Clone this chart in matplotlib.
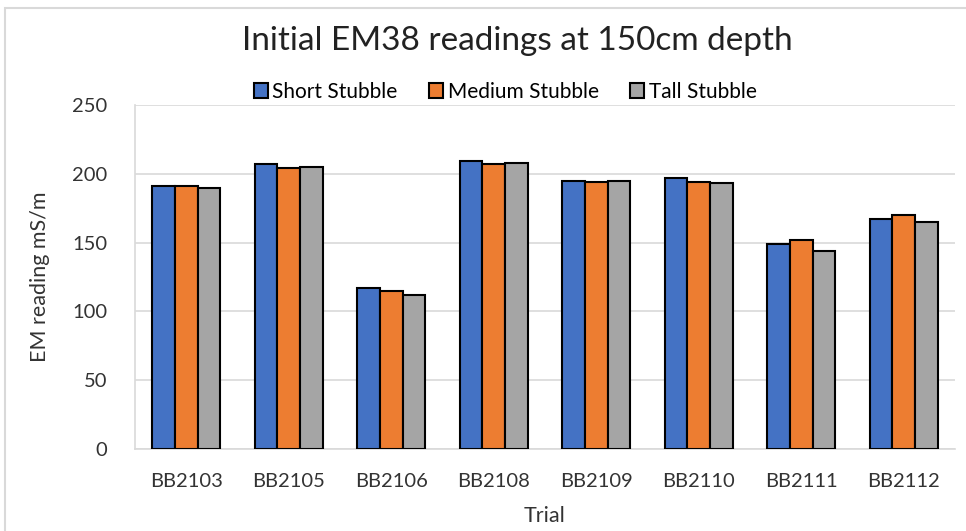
import matplotlib.pyplot as plt
import numpy as np
from matplotlib.patches import Rectangle

# EM38 readings (mS/m) at 150cm depth per trial
trials = ["BB2103", "BB2105", "BB2106", "BB2108", "BB2109", "BB2110", "BB2111", "BB2112"]
short_stubble = [191, 207, 117, 209, 195, 197, 149, 167]
medium_stubble = [191, 204, 115, 207, 194, 194, 152, 170]
tall_stubble = [190, 205, 112, 208, 195, 193, 144, 165]

series = [("Short Stubble", short_stubble, "#4472c4"),
          ("Medium Stubble", medium_stubble, "#ed7d31"),
          ("Tall Stubble", tall_stubble, "#a5a5a5")]

plt.rcParams['font.family'] = ['Lato', 'DejaVu Sans']

fig = plt.figure(figsize=(9.66, 5.31), dpi=100)
ax = fig.add_axes([135/966, 1 - 449/531, 820/966, 344/531])

x = np.arange(len(trials))
w = 0.22
for i, (name, vals, col) in enumerate(series):
    ax.bar(x + (i - 1)*w, vals, w, color=col, edgecolor="black", linewidth=1.5,
           label=name, zorder=3)

ax.set_xlim(-0.5, len(trials) - 0.5)
ax.set_ylim(0, 250)
ax.set_yticks(range(0, 251, 50))
ax.set_xticks(x)
ax.set_xticklabels(trials)
ax.tick_params(axis="both", length=0, labelsize=14.5, colors="#333333")
ax.tick_params(axis="x", pad=17)
ax.tick_params(axis="y", pad=20)
ax.grid(axis="y", color="#d9d9d9", linewidth=1.2, zorder=0)
for s in ["top", "right"]:
    ax.spines[s].set_visible(False)
for s in ["left", "bottom"]:
    ax.spines[s].set_color("#d9d9d9")
    ax.spines[s].set_linewidth(1.2)

ax.set_xlabel("Trial", fontsize=15.5, color="#333333", labelpad=12)
ax.set_ylabel("EM reading mS/m", fontsize=15.5, color="#333333", labelpad=16)

fig.text(517/966, 1 - 41/531, "Initial EM38 readings at 150cm depth",
         fontsize=24, ha="center", va="center", color="#222222")

ax.legend(loc="center", bbox_to_anchor=(505/966, 1 - 92/531),
          bbox_transform=fig.transFigure, ncol=3, frameon=False,
          fontsize=15, handlelength=0.7, handleheight=0.7,
          handletextpad=0.2, columnspacing=1.5)

# outer chart frame
fig.patches.append(Rectangle((5/966, -0.01), 1.02, 1 - 8/531 + 0.01,
                             transform=fig.transFigure, fill=False,
                             edgecolor="#d9d9d9", linewidth=1.5))

fig.savefig("out.png", dpi=100)
